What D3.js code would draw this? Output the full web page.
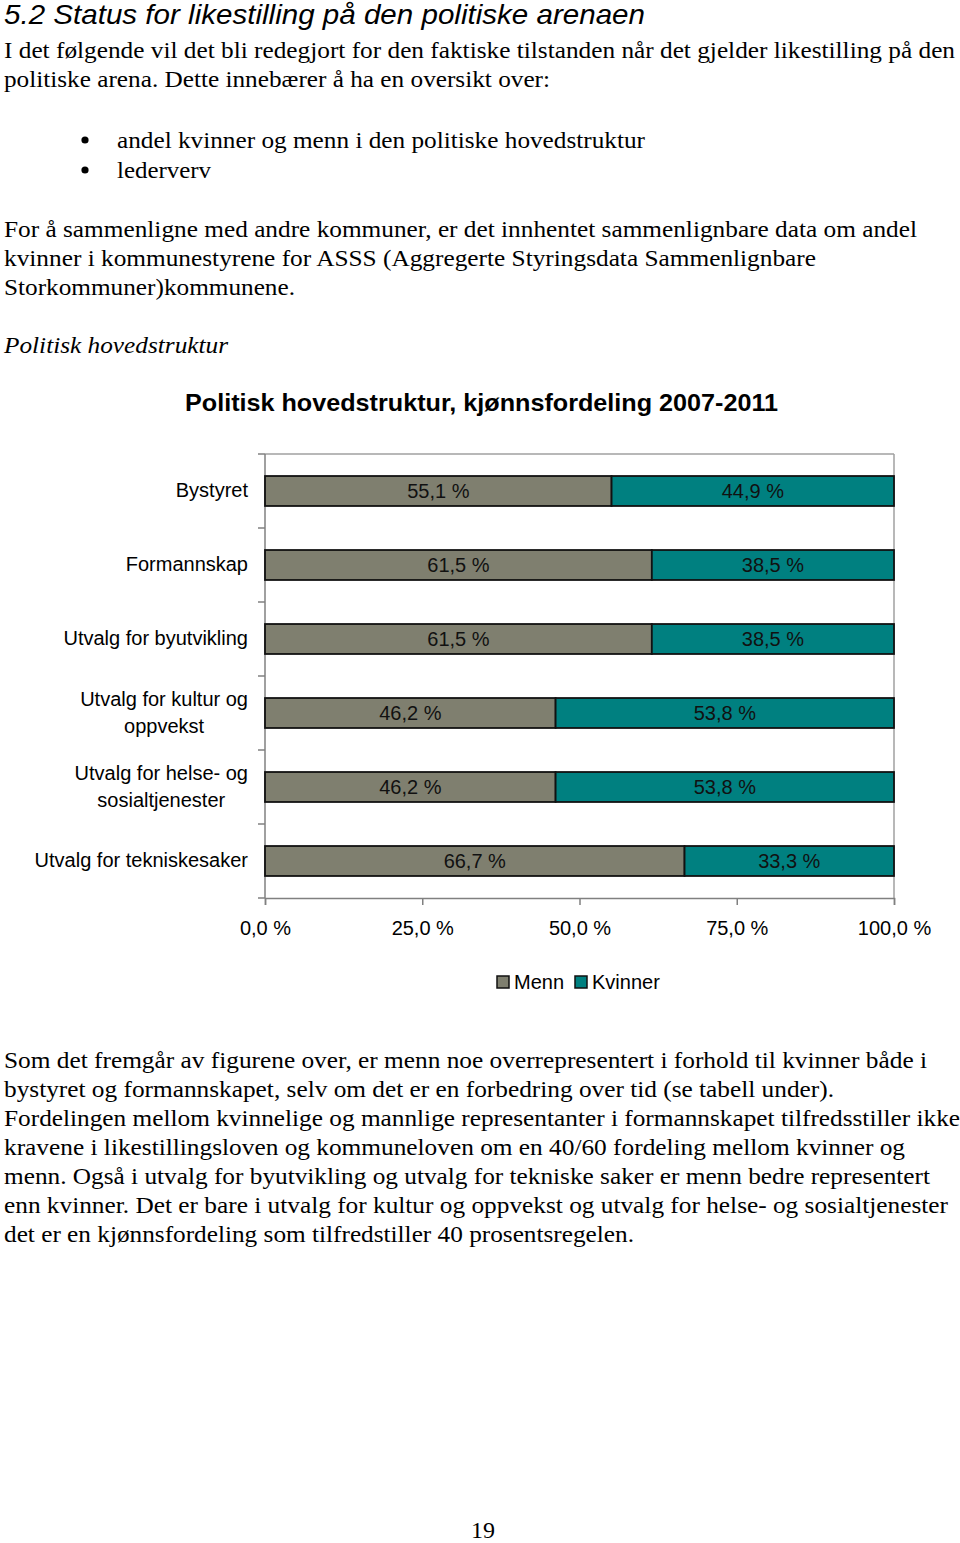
<!DOCTYPE html>
<html><head><meta charset="utf-8">
<script src="https://cdn.jsdelivr.net/npm/d3@7"></script>
<style>html,body{margin:0;padding:0;background:#fff;}svg{display:block;}</style>
</head><body>
<script>
// ---- data ----
const categories = [
  ["Bystyret"],
  ["Formannskap"],
  ["Utvalg for byutvikling"],
  ["Utvalg for kultur og", "oppvekst"],
  ["Utvalg for helse- og", "sosialtjenester"],
  ["Utvalg for tekniskesaker"]
];
const menn    = [55.1, 61.5, 61.5, 46.2, 46.2, 66.7];
const kvinner = [44.9, 38.5, 38.5, 53.8, 53.8, 33.3];
const seriesNames = ["Menn", "Kvinner"];
const xTicks = [0, 25, 50, 75, 100];
const chartTitle = "Politisk hovedstruktur, kjønnsfordeling 2007-2011";

// ---- page text ----
const heading = "5.2 Status for likestilling på den politiske arenaen";
const introLines = [
  "I det følgende vil det bli redegjort for den faktiske tilstanden når det gjelder likestilling på den",
  "politiske arena. Dette innebærer å ha en oversikt over:"
];
const bullets = ["andel kvinner og menn i den politiske hovedstruktur", "lederverv"];
const para1 = [
  "For å sammenligne med andre kommuner, er det innhentet sammenlignbare data om andel",
  "kvinner i kommunestyrene for ASSS (Aggregerte Styringsdata Sammenlignbare",
  "Storkommuner)kommunene."
];
const subhead = "Politisk hovedstruktur";
const para2 = [
  "Som det fremgår av figurene over, er menn noe overrepresentert i forhold til kvinner både i",
  "bystyret og formannskapet, selv om det er en forbedring over tid (se tabell under).",
  "Fordelingen mellom kvinnelige og mannlige representanter i formannskapet tilfredsstiller ikke",
  "kravene i likestillingsloven og kommuneloven om en 40/60 fordeling mellom kvinner og",
  "menn. Også i utvalg for byutvikling og utvalg for tekniske saker er menn bedre representert",
  "enn kvinner. Det er bare i utvalg for kultur og oppvekst og utvalg for helse- og sosialtjenester",
  "det er en kjønnsfordeling som tilfredstiller 40 prosentsregelen."
];
const pageNumber = "19";

const W = 960, H = 1543;
const svg = d3.select("body").append("svg").attr("width", W).attr("height", H);
const serif = "'Liberation Serif','Times New Roman',serif";
const sans = "'Liberation Sans',Arial,sans-serif";

function line(txt, x, y, opts) {
  const t = svg.append("text").attr("x", x).attr("y", y).text(txt)
    .attr("font-family", opts.family || serif)
    .attr("font-size", opts.size || 24)
    .attr("fill", "#000");
  if (opts.style) t.attr("font-style", opts.style);
  if (opts.weight) t.attr("font-weight", opts.weight);
  if (opts.len) t.attr("textLength", opts.len).attr("lengthAdjust", "spacingAndGlyphs");
  if (opts.anchor) t.attr("text-anchor", opts.anchor);
  return t;
}

line(heading, 4, 24, {family: sans, size: 28, style: "italic", len: 641});
const introW = [951, 546];
introLines.forEach((s, i) => line(s, 4, 58 + i * 29, {len: introW[i]}));
const bulletW = [528, 94];
bullets.forEach((s, i) => {
  svg.append("circle").attr("cx", 85).attr("cy", 140 + i * 30).attr("r", 3.6).attr("fill", "#000");
  line(s, 117, 148 + i * 30, {len: bulletW[i]});
});
const p1W = [913, 812, 291];
para1.forEach((s, i) => line(s, 4, 237 + i * 29, {len: p1W[i]}));
line(subhead, 4, 353, {style: "italic", len: 224});
const p2W = [923, 830, 956, 901, 926, 944, 630];
para2.forEach((s, i) => line(s, 4, 1068 + i * 29, {len: p2W[i]}));
line(pageNumber, 483, 1538, {anchor: "middle", size: 24});

// ---- chart ----
line(chartTitle, 185, 411, {family: sans, size: 24, weight: "bold", len: 593});

const plot = {x0: 265, x1: 894, y0: 454, y1: 898};
const x = d3.scaleLinear().domain([0, 100]).range([plot.x0, plot.x1]);
const y = d3.scaleBand().domain(d3.range(categories.length))
  .range([plot.y0, plot.y1]).paddingInner(0.595).paddingOuter(0.2975);
const colors = {Menn: "#7f7f6f", Kvinner: "#008080"};

const g = svg.append("g");
// frame: top & right gray
g.append("line").attr("x1", plot.x0).attr("x2", plot.x1).attr("y1", plot.y0).attr("y2", plot.y0)
  .attr("stroke", "#a0a0a0").attr("stroke-width", 1.5);
g.append("line").attr("x1", plot.x1).attr("x2", plot.x1).attr("y1", plot.y0).attr("y2", plot.y1)
  .attr("stroke", "#a0a0a0").attr("stroke-width", 1.5);

// left axis with ticks at band boundaries
const half = (y.step() - y.bandwidth()) / 2;
const bounds = categories.map((c, i) => y(i) - half).concat([plot.y1]);
g.append("line").attr("x1", plot.x0).attr("x2", plot.x0).attr("y1", plot.y0).attr("y2", plot.y1)
  .attr("stroke", "#808080").attr("stroke-width", 1.5);
g.selectAll(".ytick").data(bounds).join("line")
  .attr("x1", plot.x0 - 7).attr("x2", plot.x0).attr("y1", d => d).attr("y2", d => d)
  .attr("stroke", "#808080").attr("stroke-width", 1.5);

// bottom axis
const xAxis = d3.axisBottom(x).tickValues(xTicks).tickSize(7).tickPadding(12)
  .tickFormat(d => d3.format(".1f")(d).replace(".", ",") + " %");
const ax = svg.append("g").attr("transform", `translate(0,${plot.y1})`).call(xAxis);
ax.select(".domain").attr("stroke", "#808080").attr("stroke-width", 1.5);
ax.selectAll(".tick line").attr("stroke", "#808080").attr("stroke-width", 1.5);
ax.selectAll(".tick text").attr("font-family", sans).attr("font-size", 20).attr("fill", "#000")
  .attr("dy", "0.71em").attr("y", 23);

// bars
const rows = categories.map((c, i) => ({i, m: menn[i], k: kvinner[i]}));
const barG = svg.append("g");
rows.forEach(r => {
  const segs = [
    {name: "Menn", a: 0, b: r.m},
    {name: "Kvinner", a: r.m, b: r.m + r.k}
  ];
  segs.forEach(s => {
    barG.append("rect").attr("x", x(s.a)).attr("y", y(r.i))
      .attr("width", x(s.b) - x(s.a)).attr("height", y.bandwidth())
      .attr("fill", colors[s.name]).attr("stroke", "#111").attr("stroke-width", 1.8);
    barG.append("text").attr("x", (x(s.a) + x(s.b)) / 2).attr("y", y(r.i) + y.bandwidth() / 2)
      .attr("dy", "0.36em").attr("text-anchor", "middle")
      .attr("font-family", sans).attr("font-size", 20).attr("fill", "#111")
      .text(d3.format(".1f")(s.b - s.a).replace(".", ",") + " %");
  });
});

// category labels
categories.forEach((lines, i) => {
  const cy = y(i) + y.bandwidth() / 2;
  const n = lines.length;
  const lh = 27;
  const t = svg.append("text").attr("font-family", sans).attr("font-size", 20).attr("fill", "#000");
  if (n === 1) {
    t.attr("x", 248).attr("y", cy).attr("dy", "0.3em").attr("text-anchor", "end").text(lines[0]);
  } else {
    const tmp = svg.append("text").attr("font-family", sans).attr("font-size", 20).text(lines[0]);
    const w = tmp.node().getComputedTextLength(); tmp.remove();
    const cx = 248 - w / 2;
    lines.forEach((s, j) => {
      t.append("tspan").attr("x", cx).attr("text-anchor", "middle")
        .attr("y", cy + (j - (n - 1) / 2) * lh).attr("dy", "0.3em").text(s);
    });
  }
});

// legend
const legend = svg.append("g");
const legItems = [{name: seriesNames[0], x: 497}, {name: seriesNames[1], x: 575}];
legItems.forEach(d => {
  legend.append("rect").attr("x", d.x).attr("y", 976).attr("width", 12).attr("height", 12)
    .attr("fill", colors[d.name]).attr("stroke", "#111").attr("stroke-width", 1.5);
  legend.append("text").attr("x", d.x + 17).attr("y", 982).attr("dy", "0.36em")
    .attr("font-family", sans).attr("font-size", 20).attr("fill", "#000").text(d.name);
});
</script>
</body></html>
